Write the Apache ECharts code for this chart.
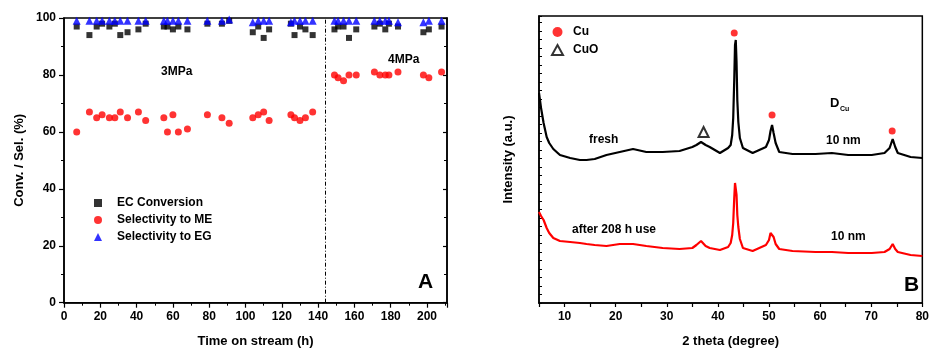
<!DOCTYPE html>
<html>
<head>
<meta charset="utf-8">
<script src="https://cdn.jsdelivr.net/npm/echarts@6/dist/echarts.min.js"></script>
<style>
html,body{margin:0;padding:0;background:#fff;}
#c{width:932px;height:355px;}
</style>
</head>
<body>
<div id="c"></div>
<script>
// ---- Panel A data ----
const times = [7,14,18,21,25,28,31,35,41,45,55,57,60,63,68,79,87,91,104,107,110,113,125,127,130,133,137,149,151,154,157,161,171,174,177,179,184,198,201,208];
const conversion = [97,94,97,98,97,98,94,95,96,98,97,97,96,97,96,98,98,99,95,97,93,96,98,94,97,96,94,96,97,97,93,96,97,98,96,98,97,95,96,97];
const selME = [60,67,65,66,65,65,67,65,67,64,65,60,66,60,61,66,65,63,65,66,67,64,66,65,64,65,67,80,79,78,80,80,81,80,80,80,81,80,79,81];
const selEG = [99,99,99,99,99,99,99,99,99,99,99,99,99,99,99,99,99,99.5,98.5,99,99,99,98.5,99,99,99,99,99,99,99,99,99,99,99,99,99,98.5,98.5,99,99];
const pressureSwitch = 144;
const timeTicks = [0,20,40,60,80,100,120,140,160,180,200];

// ---- Panel B data ----
const theta = [5.0,5.4,5.9,6.5,7.0,7.8,9.1,11.1,13,14.3,15.9,18.2,20.8,23.4,26,29.2,32.5,35,35.8,36.7,37.6,38.4,40.4,42,42.5,42.8,43.0,43.2,43.35,43.5,43.65,43.8,44.0,44.3,44.9,46.8,49.4,50.0,50.3,50.6,50.9,51.3,52,54.6,59.1,62.3,65.5,70.1,72.6,73.6,74.2,74.7,75.2,77.7,80];
const fresh = [210,195,180,166,160,154,148,145,143,143,144,148,151,154,151,151,152,156,158,161,158,156,150,155,158,168,185,223,258,263,241,203,181,165,155,150,156,163,172,178,170,160,151,149,149,150,148,148,150,155,164,156,150,146,145];
const used = [91,87,83,75,70,65,62,61,60,59,58,57,59,59,57,55,54,55,58,62,57,55,53,56,60,68,80,105,120,122,108,88,76,64,55,52,58,63,70,72,66,59,54,52,51,51,50,50,51,54,59,54,51,48,47];
const cuPeaks = [[43.2,270],[50.6,188],[74.1,172]];
const cuoPeaks = [[37.2,171]];

const FONT = 'Liberation Sans, Arial, sans-serif';
const chart = echarts.init(document.getElementById('c'));

const lbl = {color:'#000', fontFamily:FONT, fontWeight:'bold', fontSize:12};
const axisLineK = {show:true, lineStyle:{color:'#000', width:1.5}};

function txt(x, y, s, size, extra){
  return Object.assign({type:'text', left:x, top:y, style:{text:s, fill:'#000', font:'bold '+size+'px '+FONT}}, extra||{});
}

chart.setOption({
  animation:false,
  backgroundColor:'#fff',
  grid:[
    {left:64, top:18, width:383, height:284.7, show:true, borderColor:'#000', borderWidth:1.5, containLabel:false},
    {left:539, top:16, width:386, height:287, show:true, borderColor:'#000', borderWidth:1.5, containLabel:false}
  ],
  legend:[
    {data:['EC Conversion','Selectivity to ME','Selectivity to EG'], orient:'vertical', left:89, top:192, itemWidth:8, itemHeight:8, itemGap:5,
     textStyle:Object.assign({padding:[0,0,0,10]}, lbl)},
    {data:['Cu','CuO'], orient:'vertical', left:546, top:21, itemWidth:11, itemHeight:10, itemGap:6,
     textStyle:Object.assign({padding:[0,0,0,5]}, lbl)}
  ],
  xAxis:[
    {gridIndex:0, type:'value', min:0, max:211, interval:20,
     name:'Time on stream (h)', nameLocation:'middle', nameGap:32,
     nameTextStyle:{color:'#000', fontFamily:FONT, fontWeight:'bold', fontSize:13},
     axisLine:axisLineK, axisTick:{show:true, inside:false, length:5, lineStyle:{color:'#000', width:1.2}},
     minorTick:{show:true, splitNumber:2, length:3, lineStyle:{color:'#000', width:1}},
     axisLabel:Object.assign({margin:8, showMaxLabel:false, formatter:v=>timeTicks.indexOf(v)>=0?String(v):''}, lbl),
     splitLine:{show:false}},
    {gridIndex:1, type:'value', min:5, max:80, interval:5,
     name:'2 theta (degree)', nameLocation:'middle', nameGap:32,
     nameTextStyle:{color:'#000', fontFamily:FONT, fontWeight:'bold', fontSize:13},
     axisLine:axisLineK, axisTick:{show:true, inside:false, length:4, lineStyle:{color:'#000', width:1.2}},
     axisLabel:Object.assign({margin:8, formatter:v=>(v%10===0)?String(v):''}, lbl),
     splitLine:{show:false}}
  ],
  yAxis:[
    {gridIndex:0, type:'value', min:0, max:100, interval:20,
     name:'Conv. / Sel. (%)', nameLocation:'middle', nameGap:38, nameRotate:90,
     nameTextStyle:{color:'#000', fontFamily:FONT, fontWeight:'bold', fontSize:13},
     axisLine:axisLineK, axisTick:{show:true, inside:false, length:5, lineStyle:{color:'#000', width:1.2}},
     minorTick:{show:true, splitNumber:2, length:3, lineStyle:{color:'#000', width:1}},
     axisLabel:Object.assign({margin:8}, lbl), splitLine:{show:false}},
    {gridIndex:0, type:'value', min:0, max:100, interval:20, position:'right',
     axisLine:axisLineK, axisTick:{show:true, inside:true, length:4, lineStyle:{color:'#000', width:1.2}},
     minorTick:{show:true, splitNumber:2, length:3, lineStyle:{color:'#000', width:1}},
     axisLabel:{show:false}, splitLine:{show:false}},
    {gridIndex:1, type:'value', min:0, max:287, interval:8.5,
     name:'Intensity (a.u.)', nameLocation:'middle', nameGap:24, nameRotate:90,
     nameTextStyle:{color:'#000', fontFamily:FONT, fontWeight:'bold', fontSize:13},
     axisLine:axisLineK, axisTick:{show:true, inside:true, length:3, lineStyle:{color:'#000', width:1}},
     axisLabel:{show:false}, splitLine:{show:false}}
  ],
  series:[
    {name:'EC Conversion', type:'scatter', xAxisIndex:0, yAxisIndex:0, symbol:'rect', symbolSize:6,
     itemStyle:{color:'#000'}, data:times.map((t,i)=>[t,conversion[i]])},
    {name:'Selectivity to ME', type:'scatter', xAxisIndex:0, yAxisIndex:0, symbol:'circle', symbolSize:7,
     itemStyle:{color:'#ff0000'}, data:times.map((t,i)=>[t,selME[i]]),
     markLine:{silent:true, symbol:'none', label:{show:false},
       lineStyle:{color:'#000', width:1, type:[4,2,1,2]}, data:[{xAxis:pressureSwitch}]}},
    {name:'Selectivity to EG', type:'scatter', xAxisIndex:0, yAxisIndex:0, symbol:'triangle', symbolSize:8,
     itemStyle:{color:'#0000ff'}, data:times.map((t,i)=>[t,selEG[i]])},
    {name:'fresh', type:'line', xAxisIndex:1, yAxisIndex:2, showSymbol:false, symbol:'none',
     lineStyle:{color:'#000', width:2.2}, data:theta.map((t,i)=>[t,fresh[i]])},
    {name:'used', type:'line', xAxisIndex:1, yAxisIndex:2, showSymbol:false, symbol:'none',
     lineStyle:{color:'#ff0000', width:2.2}, data:theta.map((t,i)=>[t,used[i]])},
    {name:'Cu', type:'scatter', xAxisIndex:1, yAxisIndex:2, symbol:'circle', symbolSize:7,
     itemStyle:{color:'#ff0000'}, data:cuPeaks},
    {name:'CuO', type:'scatter', xAxisIndex:1, yAxisIndex:2, symbol:'emptyTriangle', symbolSize:10,
     itemStyle:{color:'#000', borderColor:'#000', borderWidth:1}, data:cuoPeaks}
  ],
  graphic:[
    txt(161, 66, '3MPa', 12),
    txt(388, 54, '4MPa', 12),
    txt(418, 272, 'A', 21),
    txt(589, 134, 'fresh', 12),
    txt(572, 224, 'after 208 h use', 12),
    txt(830, 97, 'D', 13),
    txt(840, 106, 'Cu', 7),
    txt(826, 135, '10 nm', 12),
    txt(831, 231, '10 nm', 12),
    txt(904, 275, 'B', 21)
  ]
});
</script>
</body>
</html>
